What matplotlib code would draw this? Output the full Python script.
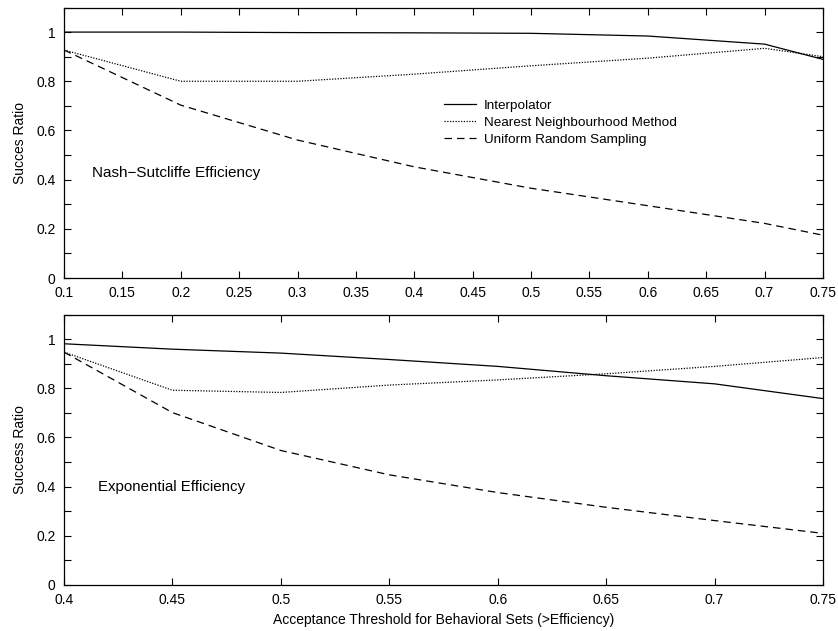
import matplotlib.pyplot as plt
from matplotlib.ticker import MultipleLocator

plt.rcParams['font.family'] = ['Liberation Sans', 'DejaVu Sans']

# Painel superior: Nash-Sutcliffe
x_ns = [0.1, 0.2, 0.3, 0.4, 0.5, 0.6, 0.7, 0.75]
interp_ns = [1.0, 1.0, 0.998, 0.997, 0.995, 0.984, 0.951, 0.889]
nearest_ns = [0.927, 0.80, 0.80, 0.829, 0.863, 0.894, 0.934, 0.90]
uniform_ns = [0.927, 0.703, 0.561, 0.452, 0.365, 0.294, 0.222, 0.174]

# Painel inferior: Exponential
x_exp = [0.4, 0.45, 0.5, 0.55, 0.6, 0.65, 0.7, 0.75]
interp_exp = [0.981, 0.959, 0.943, 0.917, 0.889, 0.851, 0.818, 0.758]
nearest_exp = [0.947, 0.792, 0.783, 0.813, 0.834, 0.859, 0.889, 0.925]
uniform_exp = [0.947, 0.701, 0.547, 0.448, 0.376, 0.316, 0.262, 0.210]

labels = ['Interpolator', 'Nearest Neighbourhood Method', 'Uniform Random Sampling']

fig = plt.figure(figsize=(8.38, 6.31), dpi=100)
ax1 = fig.add_axes([64 / 838, 1 - 278 / 631, (823 - 64) / 838, (278 - 7.5) / 631])
ax2 = fig.add_axes([64 / 838, 1 - 585 / 631, (823 - 64) / 838, (585 - 314.5) / 631])

dash = (0, (6, 4))
dot = (0, (1, 1.2))


def style_axis(ax, xmin, xmax, xstep):
    ax.set_xlim(xmin, xmax)
    ax.set_ylim(0, 1.1)
    ax.xaxis.set_major_locator(MultipleLocator(xstep))
    ax.yaxis.set_major_locator(MultipleLocator(0.2))
    ax.yaxis.set_minor_locator(MultipleLocator(0.1))
    ax.tick_params(which='both', direction='in', top=True, right=True,
                   length=5, width=0.8, labelsize=10)
    ax.tick_params(axis='x', pad=6)
    ax.tick_params(axis='y', pad=6)
    for s in ax.spines.values():
        s.set_linewidth(0.9)
    ax.xaxis.set_major_formatter(plt.FuncFormatter(lambda v, p: f'{v:g}'))
    ax.yaxis.set_major_formatter(plt.FuncFormatter(lambda v, p: f'{v:g}'))


ax1.plot(x_ns, interp_ns, color='black', lw=0.9, label=labels[0])
ax1.plot(x_ns, nearest_ns, color='black', lw=0.9, linestyle=dot, label=labels[1])
ax1.plot(x_ns, uniform_ns, color='black', lw=0.9, linestyle=dash, label=labels[2])
style_axis(ax1, 0.1, 0.75, 0.05)
ax1.set_ylabel('Succes Ratio', fontsize=10, labelpad=7)
ax1.text(0.124, 0.427, 'Nash\u2212Sutcliffe Efficiency', fontsize=11, va='center')
ax1.legend(loc='upper left', bbox_to_anchor=(0.50, 0.66), frameon=False,
           borderpad=0, borderaxespad=0,
           fontsize=9.7, handlelength=2.4, handletextpad=0.6, labelspacing=0.33)

ax2.plot(x_exp, interp_exp, color='black', lw=0.9)
ax2.plot(x_exp, nearest_exp, color='black', lw=0.9, linestyle=dot)
ax2.plot(x_exp, uniform_exp, color='black', lw=0.9, linestyle=dash)
style_axis(ax2, 0.4, 0.75, 0.05)
ax2.set_ylabel('Success Ratio', fontsize=10, labelpad=7)
ax2.set_xlabel('Acceptance Threshold for Behavioral Sets (>Efficiency)', fontsize=10, labelpad=4)
ax2.text(0.4157, 0.40, 'Exponential Efficiency', fontsize=10.8, va='center')

fig.savefig('out.png', dpi=100)
